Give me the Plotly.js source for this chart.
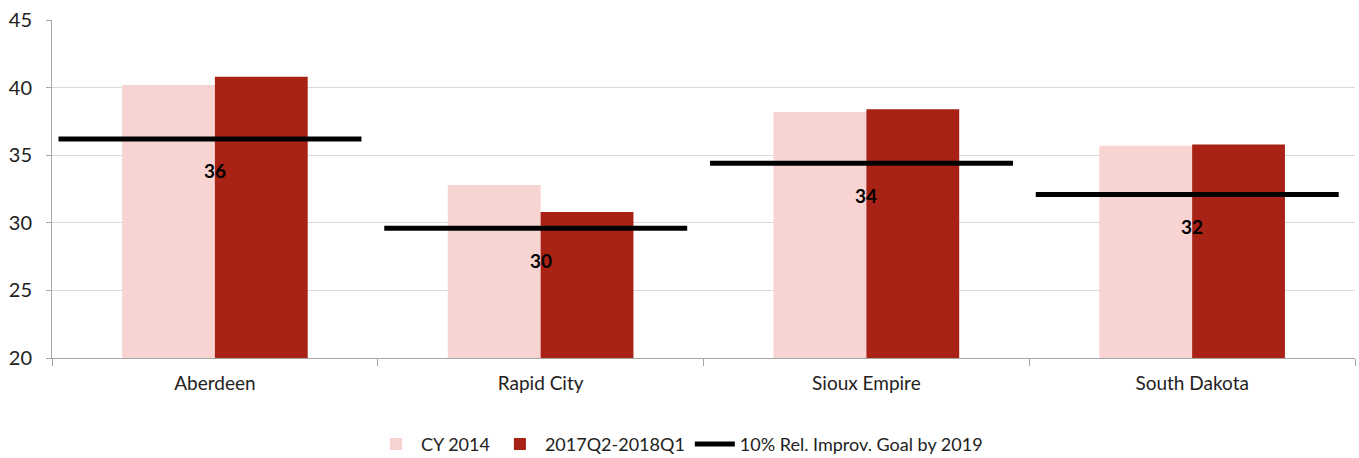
<!DOCTYPE html>
<html>
<head>
<meta charset="utf-8">
<script src="https://cdn.plot.ly/plotly-3.0.1.min.js"></script>
<style>html,body{margin:0;padding:0;background:#fff;}#chart{width:1359px;height:458px;}</style>
</head>
<body>
<div id="chart"></div>
<script>
const categories = ["Aberdeen", "Rapid City", "Sioux Empire", "South Dakota"];
const cy2014 = [40.2, 32.8, 38.2, 35.7];
const recent = [40.8, 30.8, 38.4, 35.8];
const goal = [36.2, 29.6, 34.4, 32.1];
const goalLabels = ["36", "30", "34", "32"];
const yTicks = [20, 25, 30, 35, 40, 45];

const FONT = "Lato, 'Open Sans', sans-serif";

// goal segments on a numeric overlay axis aligned with category indices
const gx = [], gy = [];
categories.forEach((c, i) => {
  gx.push(i - 0.48, i + 0.45, null);
  gy.push(goal[i], goal[i], null);
});

const traces = [
  {type: "bar", name: "CY 2014", x: categories, y: cy2014,
   marker: {color: "#F7D4D1"}, hoverinfo: "y"},
  {type: "bar", name: "2017Q2-2018Q1", x: categories, y: recent,
   marker: {color: "#A82216"}, hoverinfo: "y"},
  {type: "scatter", mode: "lines", name: "10% Rel. Improv. Goal by 2019",
   x: gx, y: gy, xaxis: "x2", line: {color: "#000000", width: 5}, hoverinfo: "y"}
];

const annotations = categories.map((c, i) => ({
  x: i, y: goal[i], xref: "x2", yref: "y", text: "<b>" + goalLabels[i] + "</b>",
  showarrow: false, yshift: -32, font: {family: FONT, size: 19, color: "#000"}
}));

const layout = {
  width: 1359, height: 458,
  margin: {l: 52, r: 4, t: 20, b: 100, autoexpand: false},
  paper_bgcolor: "#fff", plot_bgcolor: "#fff",
  font: {family: FONT, color: "#222"},
  barmode: "group", bargap: 0.43, bargroupgap: 0,
  showlegend: true,
  legend: {orientation: "h", x: 0.5, xref: "container", xanchor: "center",
           y: 0.03, yref: "container", yanchor: "middle",
           font: {family: FONT, size: 18, color: "#222"}, traceorder: "normal",
           itemwidth: 40},
  xaxis: {type: "category", tickson: "boundaries", ticks: "outside", ticklen: 7,
          tickcolor: "#A6A6A6", showline: true, linecolor: "#A6A6A6", linewidth: 1,
          showgrid: false, tickfont: {family: FONT, size: 19, color: "#222"},
          ticklabelstandoff: 8, automargin: false, fixedrange: true},
  xaxis2: {overlaying: "x", range: [-0.5, 3.5], visible: false, fixedrange: true},
  yaxis: {range: [20, 45], tickvals: yTicks, ticks: "outside", ticklen: 5,
          tickcolor: "#A6A6A6", showline: true, linecolor: "#A6A6A6", linewidth: 1,
          gridcolor: "#D9D9D9", gridwidth: 1, zeroline: false,
          tickfont: {family: FONT, size: 20, color: "#222"},
          ticklabelstandoff: 10, automargin: false, fixedrange: true},
  annotations: annotations
};

Plotly.newPlot("chart", traces, layout, {displayModeBar: false, staticPlot: true});
</script>
</body>
</html>
